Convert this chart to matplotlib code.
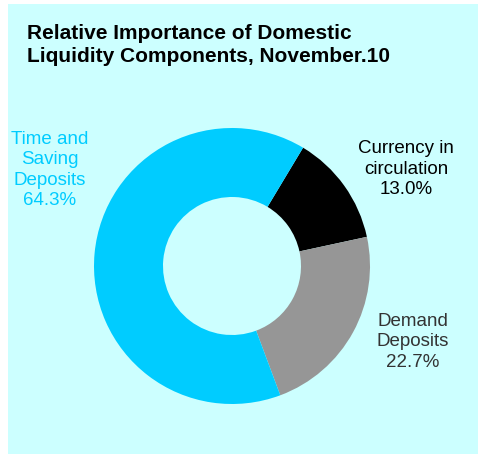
import matplotlib.pyplot as plt

plt.rcParams['font.family'] = ['Liberation Sans', 'DejaVu Sans']

# data
labels = ['Currency in\ncirculation', 'Demand\nDeposits', 'Time and\nSaving\nDeposits']
shares = [13.0, 22.7, 64.3]
colors = ['#000000', '#969696', '#00CCFF']
text_colors = ['#000000', '#333333', '#00CCFF']

fig = plt.figure(figsize=(4.78, 4.54), dpi=100)
fig.patch.set_facecolor('white')

# light cyan panel
bg = fig.add_axes([8 / 478, 0, 1 - 8 / 478, 1 - 4 / 454])
bg.set_facecolor('#CCFFFF')
bg.set_xticks([])
bg.set_yticks([])
for s in bg.spines.values():
    s.set_visible(False)

fig.text(27 / 478, 1 - 45 / 454, 'Relative Importance of Domestic\nLiquidity Components, November.10',
         fontsize=15, fontweight='bold', ha='left', va='center', linespacing=1.22)

# donut centred at (232, 266) px, outer radius ~138 px
r_px = 138
cx, cy = 232, 266
ax = fig.add_axes([(cx - r_px) / 478, 1 - (cy + r_px) / 454, 2 * r_px / 478, 2 * r_px / 454])
ax.set_facecolor('none')
ax.pie(shares, colors=colors, startangle=59, counterclock=False,
       wedgeprops=dict(width=0.5, edgecolor='none'), radius=1)
ax.set_xlim(-1, 1)
ax.set_ylim(-1, 1)
ax.set_aspect('equal')
ax.axis('off')

# labels
pos = [(406, 169), (413, 342), (50, 170)]
for lab, s, c, (x, y) in zip(labels, shares, text_colors, pos):
    fig.text(x / 478, 1 - y / 454, f'{lab}\n{s:.1f}%', color=c, fontsize=13.5,
             ha='center', va='center', linespacing=1.28)

fig.savefig('out.png', dpi=100)
